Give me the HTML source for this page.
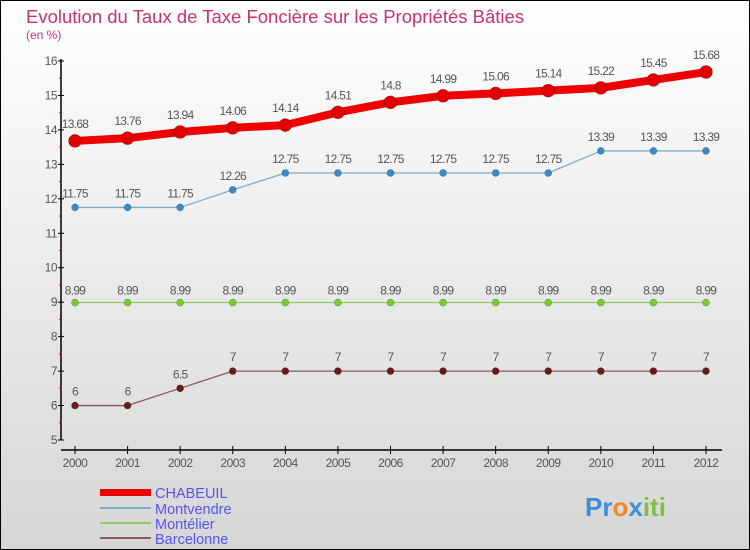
<!DOCTYPE html>
<html><head><meta charset="utf-8"><style>
body{margin:0;}
svg{display:block;font-family:"Liberation Sans",sans-serif;}
</style></head><body>
<svg id="c" width="750" height="550" xmlns="http://www.w3.org/2000/svg">
<defs><linearGradient id="bg" x1="0" y1="0" x2="0" y2="1"><stop offset="0" stop-color="#ffffff"/><stop offset="1" stop-color="#d6d6d6"/></linearGradient></defs>
<rect x="0.5" y="0.5" width="749" height="549" fill="url(#bg)" stroke="#000"/>
<text x="26" y="23" font-size="18.5" fill="#c8336a">Evolution du Taux de Taxe Foncière sur les Propriétés Bâties</text>
<text x="26" y="39" font-size="12" fill="#c8336a">(en %)</text>
<g id="axes"></g><g id="series"></g>
<g>
<rect x="100" y="489" width="51" height="7" fill="#ee0000"/>
<text x="155" y="498" font-size="14.5" fill="#5555ee">CHABEUIL</text>
<rect x="100" y="507" width="51" height="2" fill="#7aaed0"/>
<text x="155" y="514" font-size="14.5" fill="#5555ee">Montvendre</text>
<rect x="100" y="522" width="51" height="2" fill="#8ed060"/>
<text x="155" y="529" font-size="14.5" fill="#5555ee">Montélier</text>
<rect x="100" y="537" width="51" height="2" fill="#8a5a5a"/>
<text x="155" y="544" font-size="14.5" fill="#5555ee">Barcelonne</text>
</g>
<text x="585" y="516" font-size="26" font-weight="bold"><tspan fill="#3a8fd8">Pr</tspan><tspan fill="#f08a20">o</tspan><tspan fill="#3a8fd8">x</tspan><tspan fill="#80c040">iti</tspan></text>
</svg>
<script>
const years=[2000,2001,2002,2003,2004,2005,2006,2007,2008,2009,2010,2011,2012];
const yTicks=[5,6,7,8,9,10,11,12,13,14,15,16];
const chabeuil=[13.68,13.76,13.94,14.06,14.14,14.51,14.8,14.99,15.06,15.14,15.22,15.45,15.68];
const chabeuilLabels=["13.68","13.76","13.94","14.06","14.14","14.51","14.8","14.99","15.06","15.14","15.22","15.45","15.68"];
const montvendre=[11.75,11.75,11.75,12.26,12.75,12.75,12.75,12.75,12.75,12.75,13.39,13.39,13.39];
const montvendreLabels=["11.75","11.75","11.75","12.26","12.75","12.75","12.75","12.75","12.75","12.75","13.39","13.39","13.39"];
const montelier=[8.99,8.99,8.99,8.99,8.99,8.99,8.99,8.99,8.99,8.99,8.99,8.99,8.99];
const montelierLabels=["8.99","8.99","8.99","8.99","8.99","8.99","8.99","8.99","8.99","8.99","8.99","8.99","8.99"];
const barcelonne=[6,6,6.5,7,7,7,7,7,7,7,7,7,7];
const barcelonneLabels=["6","6","6.5","7","7","7","7","7","7","7","7","7","7"];
const NS="http://www.w3.org/2000/svg";
const x=i=>75+i*(706-75)/12;
const y=v=>440-(v-5)*(440-61)/11;
function mk(t,a,p){const e=document.createElementNS(NS,t);for(const k in a)e.setAttribute(k,a[k]);p.appendChild(e);return e;}
const ax=document.getElementById('axes');
const ya=mk('line',{x1:61,y1:59,x2:61,y2:440,stroke:'#000','stroke-width':1.5},ax);


const xa=mk('line',{x1:61,y1:450,x2:722,y2:450,stroke:'#000','stroke-width':1.5},ax);


yTicks.forEach(v=>{
 mk('line',{x1:58,y1:y(v),x2:64,y2:y(v),stroke:'#000'},ax);
 if(v<16) mk('line',{x1:59,y1:y(v+0.5),x2:62,y2:y(v+0.5),stroke:'#e00'},ax);
 const t=mk('text',{x:57,y:y(v)+4,'font-size':12,fill:'#555','text-anchor':'end','letter-spacing':'-0.5'},ax);t.textContent=v;
 
 
});
years.forEach((yr,i)=>{
 mk('line',{x1:x(i),y1:446,x2:x(i),y2:454,stroke:'#000'},ax);
 const t=mk('text',{x:x(i),y:467,'font-size':12,fill:'#555','text-anchor':'middle','letter-spacing':'-0.5'},ax);t.textContent=yr;
 
 
});
const sg=document.getElementById('series');
function series(name,vals,labels,color,w,r,dot,dy){
 const g=mk('g',{},sg);
 
 
 mk('polyline',{points:vals.map((v,i)=>x(i)+','+y(v)).join(' '),fill:'none',stroke:color,'stroke-width':w,'stroke-linejoin':'round'},g);
 vals.forEach((v,i)=>{
  const c=mk('circle',{cx:x(i),cy:y(v),r:r,fill:dot,stroke:'rgba(0,0,0,0.3)','stroke-width':0.6},g);
  
  
  const t=mk('text',{x:x(i),y:y(v)-dy,'font-size':12,fill:'#555','text-anchor':'middle','letter-spacing':'-0.7'},g);t.textContent=labels[i];
  
  
 });
}
series('barcelonne',barcelonne,barcelonneLabels,'#8a5a5a',1.3,3.5,'#6a1a1a',10);
series('montelier',montelier,montelierLabels,'#8ed060',1.3,3.5,'#7acc30',8);
series('montvendre',montvendre,montvendreLabels,'#7aaed0',1.3,3.5,'#3a8ac8',10);
series('chabeuil',chabeuil,chabeuilLabels,'#ee0000',8,6.5,'#e00000',13);
</script>
</body></html>
